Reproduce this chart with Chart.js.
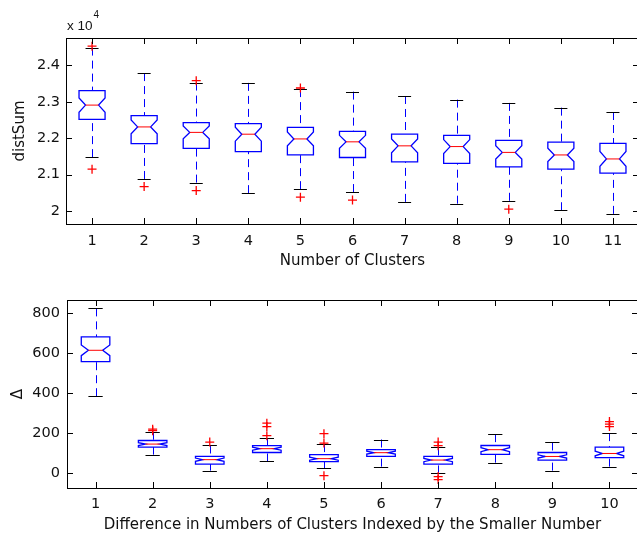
<!DOCTYPE html>
<html><head><meta charset="utf-8">
<script src="https://cdn.jsdelivr.net/npm/chart.js@4/dist/chart.umd.min.js"></script>
<style>
html,body{margin:0;padding:0;background:#fff;overflow:hidden;width:637px;height:536px;}
canvas{position:absolute;left:0;}
</style></head><body>
<canvas id="c1" width="660" height="270" style="top:0px"></canvas>
<canvas id="c2" width="660" height="266" style="top:270px"></canvas>
<script>
// ---------- Top panel: distSum vs Number of Clusters ----------
const topCategories = [1,2,3,4,5,6,7,8,9,10,11];
const topLowWhisker = [21480,20880,20780,20490,20600,20520,20250,20200,20280,20020,19920];
const topQ1         = [22520,21850,21720,21630,21540,21470,21350,21310,21210,21150,21040];
const topMedian     = [22910,22310,22160,22110,21980,21900,21790,21770,21610,21540,21430];
const topQ3         = [23310,22620,22430,22400,22300,22190,22110,22080,21940,21890,21860];
const topHighWhisker= [24490,23790,23530,23520,23350,23280,23160,23060,22970,22840,22720];
const topOutliers   = [[24530,21150],[20670],[23580,20560],[],[23380,20380],[20300],[],[],[20050],[],[]];
const topSampleSize = 40;
const topYTicks = [20000,21000,22000,23000,24000];
const topYTickLabels = ['2','2.1','2.2','2.3','2.4'];
const topXTickLabels = ['1','2','3','4','5','6','7','8','9','10','11'];

// ---------- Bottom panel: Delta vs difference index ----------
const botCategories = [1,2,3,4,5,6,7,8,9,10];
const botLowWhisker = [385, 92, 12, 58, 23, 32, -2, 52, 12, 32];
const botQ1         = [558,130, 45,103, 57, 83, 45, 93, 65, 77];
const botMedian     = [615,145, 67,122, 72,102, 65,117, 83, 98];
const botQ3         = [682,163, 83,137, 92,117, 83,138,103,130];
const botHighWhisker= [825,207,138,175,145,168,128,195,153,200];
const botOutliers   = [[],[220,212],[155],[250,233,187],[197,150,-13],[],[155,137,-18,-33],[],[],[258,245,233]];
const botSampleSize = 52;
const botYTicks = [0,200,400,600,800];
const botYTickLabels = ['0','200','400','600','800'];
const botXTickLabels = ['1','2','3','4','5','6','7','8','9','10'];

const FONT = "'DejaVu Sans', sans-serif";
const TXT = '#111';

function outlierPoints(cats, outs){
  const pts = [];
  cats.forEach((c,i)=>outs[i].forEach(v=>pts.push({x:c,y:v})));
  return pts;
}

function boxPlugin(d){
  return {
    id:'boxes',
    beforeDatasetsDraw(chart){
      const {ctx, scales:{x,y}} = chart;
      ctx.save();
      d.cats.forEach((c,i)=>{
        const xc = x.getPixelForValue(c);
        const hw = x.getPixelForValue(c+0.25)-xc;
        const cw = x.getPixelForValue(c+0.125)-xc;
        const q1=d.q1[i], q3=d.q3[i], med=d.med[i];
        const notch = 1.57*(q3-q1)/Math.sqrt(d.n);
        const yQ1=y.getPixelForValue(q1), yQ3=y.getPixelForValue(q3), yM=y.getPixelForValue(med);
        const yNh=y.getPixelForValue(med+notch), yNl=y.getPixelForValue(med-notch);
        const yLo=y.getPixelForValue(d.lo[i]), yHi=y.getPixelForValue(d.hi[i]);
        // whiskers
        ctx.strokeStyle='#0000ff'; ctx.lineWidth=1; ctx.setLineDash([8,5]);
        ctx.beginPath(); ctx.moveTo(Math.round(xc)+0.5,yHi); ctx.lineTo(Math.round(xc)+0.5,yQ3);
        ctx.moveTo(Math.round(xc)+0.5,yLo); ctx.lineTo(Math.round(xc)+0.5,yQ1); ctx.stroke();
        ctx.setLineDash([]);
        // caps
        ctx.strokeStyle='#000';
        ctx.beginPath();
        ctx.moveTo(xc-cw,Math.round(yHi)+0.5); ctx.lineTo(xc+cw,Math.round(yHi)+0.5);
        ctx.moveTo(xc-cw,Math.round(yLo)+0.5); ctx.lineTo(xc+cw,Math.round(yLo)+0.5);
        ctx.stroke();
        // notched box
        ctx.strokeStyle='#0000ff'; ctx.lineWidth=1.3;
        ctx.beginPath();
        ctx.moveTo(xc-hw,yQ3); ctx.lineTo(xc+hw,yQ3); ctx.lineTo(xc+hw,yNh);
        ctx.lineTo(xc+cw,yM); ctx.lineTo(xc+hw,yNl); ctx.lineTo(xc+hw,yQ1);
        ctx.lineTo(xc-hw,yQ1); ctx.lineTo(xc-hw,yNl); ctx.lineTo(xc-cw,yM);
        ctx.lineTo(xc-hw,yNh); ctx.closePath(); ctx.stroke();
        // median
        ctx.strokeStyle='#ff0000'; ctx.lineWidth=1;
        ctx.beginPath(); ctx.moveTo(xc-cw,yM); ctx.lineTo(xc+cw,yM); ctx.stroke();
      });
      ctx.restore();
    },
    afterDraw(chart){
      const {ctx, scales:{x,y}, chartArea:a} = chart;
      ctx.save();
      ctx.strokeStyle='#000'; ctx.lineWidth=1;
      ctx.strokeRect(a.left+0.5,a.top+0.5,a.right-a.left,a.bottom-a.top);
      const L=6;
      ctx.beginPath();
      x.ticks.forEach(t=>{
        const X=Math.round(x.getPixelForValue(t.value))+0.5;
        ctx.moveTo(X,a.bottom); ctx.lineTo(X,a.bottom-L);
        ctx.moveTo(X,a.top); ctx.lineTo(X,a.top+L);
      });
      y.ticks.forEach(t=>{
        const Y=Math.round(y.getPixelForValue(t.value))+0.5;
        ctx.moveTo(a.left,Y); ctx.lineTo(a.left+L,Y);
        ctx.moveTo(a.right,Y); ctx.lineTo(a.right-L,Y);
      });
      ctx.stroke();
      if(d.exponent){
        ctx.fillStyle=TXT;
        ctx.textBaseline='alphabetic'; ctx.textAlign='left';
        ctx.font="13.5px 'Liberation Sans', sans-serif";
        ctx.fillText('x 10', a.left+1, a.top-8);
        const w = ctx.measureText('x 10').width;
        ctx.font="10px 'Liberation Sans', sans-serif";
        ctx.fillText(d.exponent, a.left+2+w, a.top-20);
      }
      ctx.restore();
    }
  };
}

function makeChart(id, cfg){
  const d = cfg.d;
  return new Chart(document.getElementById(id), {
    type:'scatter',
    data:{datasets:[{
      data: outlierPoints(d.cats, cfg.outliers),
      pointStyle:'cross', radius:4.5, borderWidth:1.3,
      borderColor:'#ff0000', backgroundColor:'#ff0000'
    }]},
    options:{
      responsive:false, animation:false, devicePixelRatio:1, events:[],
      layout:{padding:cfg.padding},
      plugins:{legend:{display:false}, tooltip:{enabled:false}},
      scales:{
        x:{
          type:'linear', min:cfg.xmin, max:cfg.xmax,
          afterBuildTicks:s=>{ s.ticks = d.cats.map(v=>({value:v})); },
          afterFit:s=>{ s.height = cfg.xHeight; },
          grid:{display:false, drawTicks:false}, border:{display:false},
          ticks:{padding:cfg.xPad, color:TXT, font:{family:FONT,size:14.5}, autoSkip:false, maxRotation:0,
            callback:(v,i)=>cfg.xLabels[i]},
          title:{display:true, text:cfg.xTitle, color:TXT, font:{family:FONT,size:15}, padding:{top:0,bottom:cfg.xTitlePad}}
        },
        y:{
          type:'linear', min:cfg.ymin, max:cfg.ymax,
          afterBuildTicks:s=>{ s.ticks = cfg.yTicks.map(v=>({value:v})); },
          afterFit:s=>{ s.width = cfg.yWidth; },
          grid:{display:false, drawTicks:false}, border:{display:false},
          ticks:{padding:cfg.yPad, color:TXT, font:{family:FONT,size:14.5}, autoSkip:false,
            callback:(v,i)=>cfg.yLabels[i]},
          title:{display:true, text:cfg.yTitle, color:TXT, font:{family:FONT,size:15}, padding:{top:cfg.yTitlePad,bottom:0}}
        }
      }
    },
    plugins:[boxPlugin(d)]
  });
}

makeChart('c1', {
  d:{cats:topCategories, lo:topLowWhisker, q1:topQ1, med:topMedian, q3:topQ3, hi:topHighWhisker, n:topSampleSize, exponent:'4'},
  outliers: topOutliers,
  padding:{top:38, right:21, left:0, bottom:0},
  xmin:0.5, xmax:11.5, ymin:19642, ymax:24754,
  xHeight:46, yWidth:66, xPad:9, yPad:6, xTitlePad:0, yTitlePad:11,
  xLabels: topXTickLabels, yTicks: topYTicks, yLabels: topYTickLabels,
  xTitle:'Number of Clusters', yTitle:'distSum'
});

makeChart('c2', {
  d:{cats:botCategories, lo:botLowWhisker, q1:botQ1, med:botMedian, q3:botQ3, hi:botHighWhisker, n:botSampleSize},
  outliers: botOutliers,
  padding:{top:30, right:22, left:0, bottom:0},
  xmin:0.5, xmax:10.5, ymin:-75, ymax:867,
  xHeight:48, yWidth:67, xPad:8, yPad:7, xTitlePad:2, yTitlePad:9,
  xLabels: botXTickLabels, yTicks: botYTicks, yLabels: botYTickLabels,
  xTitle:'Difference in Numbers of Clusters Indexed by the Smaller Number', yTitle:'Δ'
});
</script>
</body></html>
